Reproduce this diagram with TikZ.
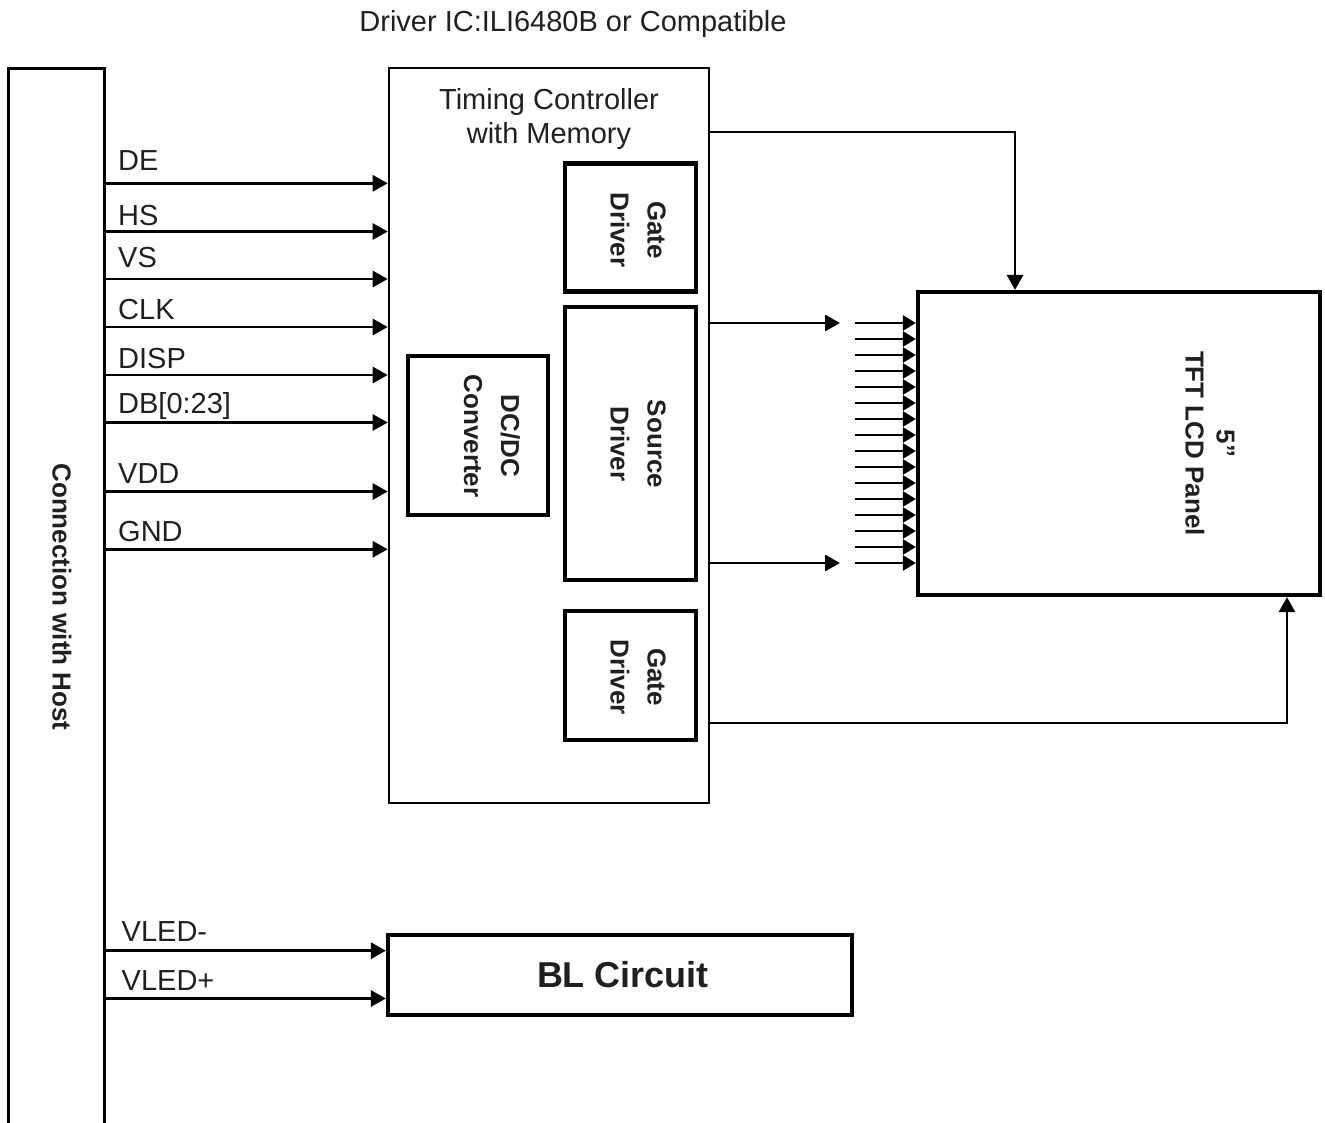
\documentclass[tikz,border=0pt]{standalone}
\usepackage{fontspec}
\setmainfont{Liberation Sans}
\usetikzlibrary{arrows.meta}
\definecolor{ink}{HTML}{231F20}
\begin{document}
\begin{tikzpicture}[x=1pt,y=-1pt,
  thinbox/.style={draw=black, inner sep=0pt, line width=2.6pt},
  thickbox/.style={draw=black, inner sep=0pt, line width=4.2pt},
  sig/.style={draw=black, line width=2.8pt, -{Triangle[length=15pt,width=16pt]}},
  fan/.style={draw=black, line width=2.6pt, -{Triangle[length=13pt,width=15pt]}},
  lbl/.style={text=ink, inner sep=0pt, anchor=base west, font=\fontsize{29}{34}\selectfont},
  rottxt/.style={text=ink, inner sep=0pt, rotate=-90, align=center},
]
\useasboundingbox (0,0) rectangle (1325,1122);

% title
\node[text=ink, inner sep=0pt, anchor=base, font=\fontsize{29}{34}\selectfont] (title) at (573,31) {Driver IC:ILI6480B or Compatible};

% boxes
\node[thinbox, line width=3pt, minimum width=96pt, minimum height=1070pt] (host) at (56,603) {};
\node[thinbox, minimum width=320pt, minimum height=735pt] (tc) at (549,435.5) {};
\node[thickbox, minimum width=131pt, minimum height=128pt] (gate1) at (630.5,227.5) {};
\node[thickbox, minimum width=131pt, minimum height=273pt] (src) at (630.5,443.5) {};
\node[thickbox, minimum width=131pt, minimum height=129pt] (gate2) at (630.5,675.5) {};
\node[thickbox, minimum width=140pt, minimum height=159pt] (dcdc) at (478.3,435.5) {};
\node[thickbox, minimum width=402pt, minimum height=303pt] (panel) at (1119,443.5) {};
\node[thickbox, minimum width=464pt, minimum height=80pt] (bl) at (620,975) {};

% texts
\node[rottxt, font=\bfseries\fontsize{26}{31}\selectfont] (hosttxt) at (62,597) {Connection with Host};
\node[text=ink, inner sep=0pt, anchor=base, font=\fontsize{29}{34}\selectfont] (tct1) at (549,109.5) {Timing Controller};
\node[text=ink, inner sep=0pt, anchor=base, font=\fontsize{29}{34}\selectfont] (tct2) at (549,143.5) {with Memory};
\node[rottxt, font=\bfseries\fontsize{26}{37}\selectfont] (g1txt) at (638,230) {Gate\\Driver};
\node[rottxt, font=\bfseries\fontsize{26}{37}\selectfont] (srctxt) at (638,444) {Source\\Driver};
\node[rottxt, font=\bfseries\fontsize{26}{37}\selectfont] (g2txt) at (638,677) {Gate\\Driver};
\node[rottxt, font=\bfseries\fontsize{26}{37}\selectfont] (dctxt) at (492,436) {DC/DC\\Converter};
\node[rottxt, font=\bfseries\fontsize{26}{31}\selectfont] (paneltxt) at (1210,443.5) {5”\\TFT LCD Panel};
\node[text=ink, inner sep=0pt, font=\bfseries\fontsize{36}{42}\selectfont] (bltxt) at (623,975) {BL Circuit};

% host signals
\foreach \y/\ly/\lab [count=\n] in {183.3/170.7/DE, 231.5/225/HS, 279/267.5/VS, 327/319/CLK, 375/368.3/DISP, 422.5/413/{DB[0:23]}, 491.5/483/VDD, 549.3/541.7/GND}{
  \coordinate (h\n) at (0,\y);
  \draw[sig] (host.east |- h\n) -- (tc.west |- h\n);
  \node[lbl] (hl\n) at (118,\ly) {\lab};
}
\foreach \y/\ly/\lab [count=\n] in {950.7/941.7/VLED-, 998.5/990.7/VLED+}{
  \coordinate (v\n) at (0,\y);
  \draw[sig] (host.east |- v\n) -- (bl.west |- v\n);
  \node[lbl] (vl\n) at (121.5,\ly) {\lab};
}

% timing controller to panel
\coordinate (k1) at (1015,132);
\draw[sig] (tc.east |- k1) -| (panel.north -| k1);
\coordinate (k2) at (1287,723);
\draw[sig] (tc.east |- k2) -| (panel.south -| k2);

% source driver outputs
\coordinate (s1) at (840,323);
\coordinate (s2) at (840,563);
\draw[sig] (tc.east |- s1) -- (s1);
\draw[sig] (tc.east |- s2) -- (s2);
\foreach \i in {0,...,15}{
  \coordinate (f\i) at (855,{323+16*\i});
  \draw[fan] (f\i) -- (panel.west |- f\i);
}
\end{tikzpicture}
\end{document}
